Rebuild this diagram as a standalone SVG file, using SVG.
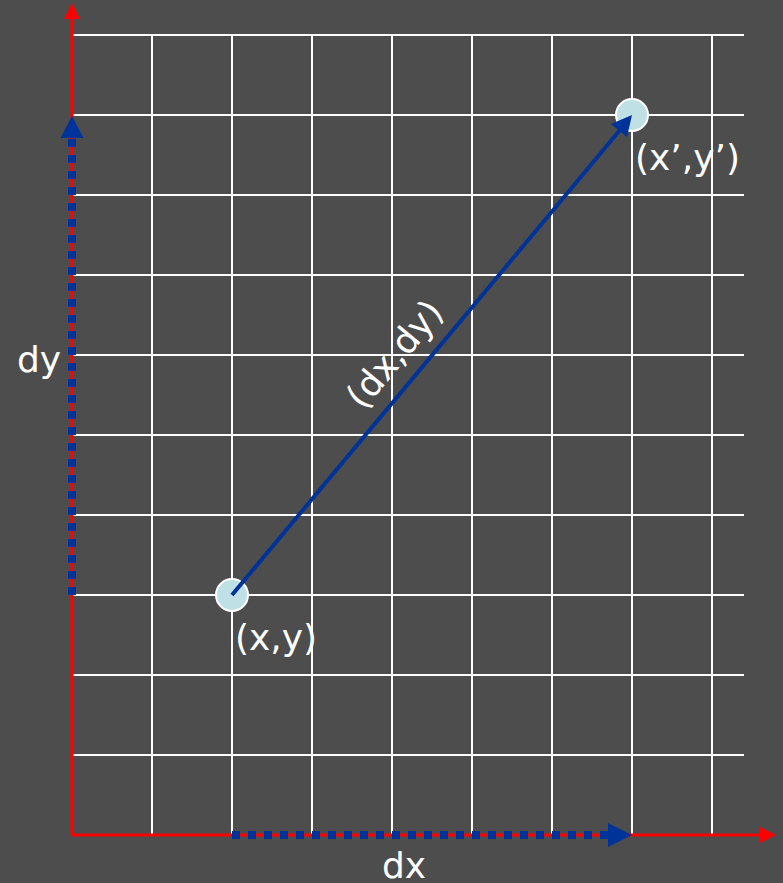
<svg xmlns="http://www.w3.org/2000/svg" width="783" height="883" viewBox="0 0 783 883">
<style>
.grid{stroke:#fff;stroke-width:2;fill:none}
.axis{stroke:#f00;stroke-width:3;fill:none}
.dash{stroke:#003399;stroke-width:8;stroke-dasharray:8 8;fill:none}
.pt{fill:#bfe0e5;stroke:#fff;stroke-width:2}
.lbl{font-family:"DejaVu Sans",Verdana,sans-serif;font-size:36px;fill:#fff}
</style>
<rect width="783" height="883" fill="#4d4d4d"/>
<g id="grid" class="grid">
<path d="M72 35H744M72 115H744M72 195H744M72 275H744M72 355H744M72 435H744M72 515H744M72 595H744M72 675H744M72 755H744"/>
<path d="M152 35V835M232 35V835M312 35V835M392 35V835M472 35V835M552 35V835M632 35V835M712 35V835"/>
</g>
<g id="axes">
<path class="axis" d="M72 835V18"/>
<polygon points="72,3 64,19 80,19" fill="#f00"/>
<path class="axis" d="M72 835H761"/>
<polygon points="776,835 760,827 760,843" fill="#f00"/>
</g>
<g id="connectors">
<path class="dash" d="M72 595V138"/>
<polygon points="72,116 60.5,138 83.5,138" fill="#003399"/>
<path class="dash" d="M232 835H609"/>
<polygon points="632,835 608,823 608,847" fill="#003399"/>
</g>
<g id="p1"><circle class="pt" cx="232" cy="595" r="16"/></g>
<g id="p2"><circle class="pt" cx="632" cy="115" r="16"/></g>
<g id="vector">
<path d="M232 595L620 130" stroke="#003399" stroke-width="4" fill="none"/>
<polygon points="632,115 611,124 627,137" fill="#003399"/>
</g>
<g id="labels">
<text class="lbl" x="235" y="650">(x,y)</text>
<text class="lbl" x="635" y="170">(x’,y’)</text>
<text class="lbl" x="17" y="372">dy</text>
<text class="lbl" x="382" y="878">dx</text>
<text class="lbl" text-anchor="middle" transform="translate(404,362) rotate(-50.2)">(dx,dy)</text>
</g>
</svg>
